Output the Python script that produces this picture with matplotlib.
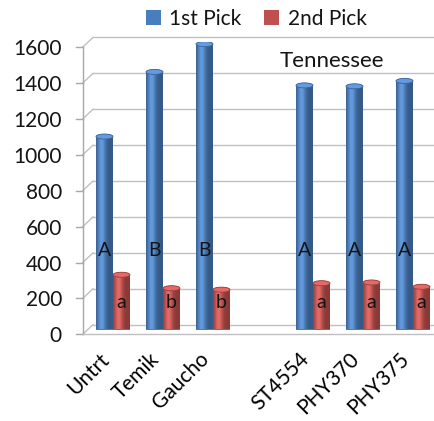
import numpy as np
import matplotlib.pyplot as plt
from matplotlib.patches import Ellipse, PathPatch
from matplotlib.path import Path

categories = ["Untrt", "Temik", "Gaucho", "ST4554", "PHY370", "PHY375"]
first_pick = [1075, 1435, 1590, 1360, 1355, 1385]
second_pick = [305, 230, 222, 258, 262, 238]
first_letters = ["A", "B", "B", "A", "A", "A"]
second_letters = ["a", "b", "b", "a", "a", "a"]
yticks = [0, 200, 400, 600, 800, 1000, 1200, 1400, 1600]

plt.rcParams['font.family'] = ['Lato', 'DejaVu Sans']
plt.rcParams['text.color'] = '#141414'

blue = np.array([0.29, 0.49, 0.74])
red = np.array([0.753, 0.314, 0.302])

W, H = 434, 421
fig = plt.figure(figsize=(W / 100, H / 100), dpi=100)
ax = fig.add_axes([88 / W, 91.5 / H, 350 / W, 287.2 / H])

# treatments on the left, varieties on the right, one empty slot between
x = np.r_[0:3, 4:7]
bw = 0.34
b1 = ax.bar(x - bw / 2, first_pick, bw, color=blue, label='1st Pick', zorder=3)
b2 = ax.bar(x + bw / 2, second_pick, bw, color=red, label='2nd Pick', zorder=3)

e = 14  # half height of the elliptical bar ends (data units)


def shade(base, n=64):
    t = np.linspace(0, 1, n)
    hi = np.exp(-((t - 0.33) / 0.24) ** 2)
    col = base[None, :] * (0.72 + 0.36 * hi[:, None]) + 0.08 * hi[:, None]
    return np.clip(col, 0, 1)


def cylinder(rect, base):
    x0, w, h = rect.get_x(), rect.get_width(), rect.get_height()
    xc = x0 + w / 2
    tb = np.linspace(np.pi, 2 * np.pi, 40)
    tt = np.linspace(0, np.pi, 40)
    bottom = np.column_stack([xc + w / 2 * np.cos(tb), e * np.sin(tb)])
    top = np.column_stack([xc + w / 2 * np.cos(tt), h + e * np.sin(tt)])
    verts = np.vstack([[[x0, h], [x0, 0]], bottom, [[x0 + w, h]], top])
    clip = PathPatch(Path(verts), transform=ax.transData, fc='none', ec='none')
    ax.add_patch(clip)
    im = ax.imshow(shade(base)[None], extent=[x0, x0 + w, -e, h + e],
                   aspect='auto', interpolation='bilinear', zorder=4)
    im.set_clip_path(clip)
    cap = np.clip(base * 1.12 + 0.06, 0, 1)
    ax.add_patch(Ellipse((xc, h), w, 2 * e, fc=cap, ec=base * 0.8, lw=0.6, zorder=5))


for r in b1:
    cylinder(r, blue)
for r in b2:
    cylinder(r, red)

# walls: back gridlines, left wall edge and floor
off = 27
xf, xb = -0.606, -0.4
grid = '#c0c0c0'
for v in yticks:
    ax.plot([xb, 7], [v + off] * 2, color=grid, lw=1, clip_on=False, zorder=1)
    ax.plot([xf, xb], [v - off, v + off], color=grid, lw=1, clip_on=False, zorder=1)
    ax.plot([-0.74, xf], [v - off] * 2, color='#a8a8a8', lw=1, clip_on=False, zorder=1)
    ax.text(-1.02, v - off, str(v), ha='right', va='center_baseline', fontsize=15)
ax.plot([xf, xf], [-off, 1600 - off], color='#a8a8a8', lw=1, clip_on=False, zorder=1)
ax.plot([xf, 7], [-off, -off], color=grid, lw=1, clip_on=False, zorder=1)

for xi, s in zip(x - bw / 2, first_letters):
    ax.text(xi, 411, s, ha='center', va='baseline', fontsize=14, zorder=6)
for xi, s in zip(x + bw / 2, second_letters):
    ax.text(xi, 121, s, ha='center', va='baseline', fontsize=14, zorder=6)

ax.text(4.374, 1464, 'Tennessee', ha='center', va='baseline', fontsize=16)

ax.set_xticks(x, categories, rotation=45, ha='right', fontsize=15)
ax.tick_params(axis='x', length=0, pad=14)
ax.set_yticks([])
for s in ax.spines.values():
    s.set_visible(False)
ax.patch.set_alpha(0)
ax.set_xlim(-0.5, 6.5)
ax.set_ylim(0, 1600)

fig.legend(handles=[b1, b2], loc='upper center', bbox_to_anchor=(0.59, 1.008),
           ncol=2, frameon=False, fontsize=15, handlelength=0.72,
           handleheight=0.72, handletextpad=0.4, columnspacing=1.1,
           borderaxespad=0.2)

fig.savefig('out.png', dpi=100)
